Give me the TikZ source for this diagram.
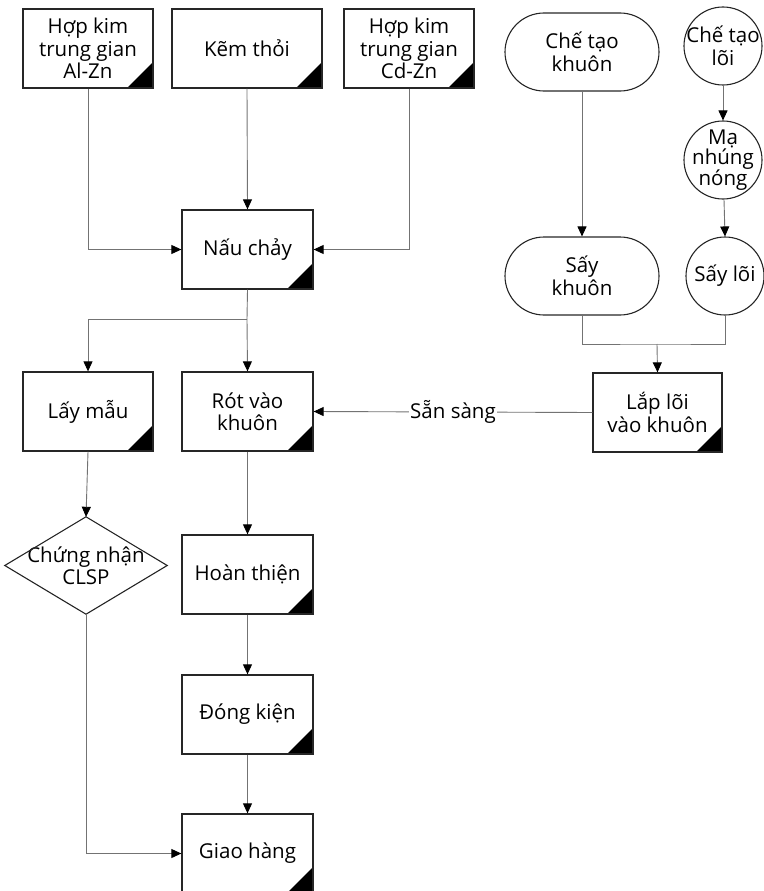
\documentclass[tikz,border=0pt]{standalone}
\usepackage{fontspec}
\setmainfont{Open Sans}
\usetikzlibrary{arrows.meta}
\begin{document}
\begin{tikzpicture}[x=1pt,y=-1pt,
  every node/.style={font=\fontsize{20.5}{22.5}\selectfont, align=center, text=black},
  box/.style={draw=black!85, line width=1.3pt, minimum width=130pt, minimum height=79pt, inner sep=0pt,
    path picture={\fill[black] ([xshift=-26pt]path picture bounding box.south east) -- (path picture bounding box.south east) -- ([yshift=26pt]path picture bounding box.south east) -- cycle;}},
  stadium/.style={draw=black!85, line width=1.1pt, rounded corners=39pt, minimum width=154pt, minimum height=78pt, inner sep=0pt},
  circ/.style={draw=black!85, line width=1.1pt, circle, minimum size=78pt, inner sep=0pt},
  conn/.style={draw=black!55, line width=0.9pt},
  arr/.style={conn, -{Triangle[length=10pt,width=9pt,color=black]}}
]
\useasboundingbox (0,0) rectangle (763,891);

% left column
\node[box] (alzn) at (88,48.5) {Hợp kim\\trung gian\\Al-Zn};
\node[box, minimum width=150pt] (zinc) at (247,48.5) {Kẽm thỏi};
\node[box] (cdzn) at (409,48.5) {Hợp kim\\trung gian\\Cd-Zn};
\node[box, minimum width=131pt] (melt) at (247.5,249.5) {Nấu chảy};
\node[box] (sample) at (88,411.5) {Lấy mẫu};
\node[box, minimum width=131pt] (pour) at (247.5,411.5) {Rót vào\\khuôn};
\node[minimum width=162pt, minimum height=97pt, inner sep=0pt] (cert) at (86,565.5) {Chứng nhận\\CLSP};
\draw[draw=black!85, line width=1.1pt] (cert.north) -- (cert.east) -- (cert.south) -- (cert.west) -- cycle;
\node[box, minimum width=131pt] (finish) at (247.5,574.5) {Hoàn thiện};
\node[box, minimum width=131pt] (pack) at (247.5,714.5) {Đóng kiện};
\node[box, minimum width=131pt] (ship) at (247.5,853.5) {Giao hàng};

% right side
\node[stadium] (mould) at (582,52) {Chế tạo\\khuôn};
\node[stadium] (drymould) at (582,276) {Sấy\\khuôn};
\node[circ] (core) at (723,46) {};
\node at (core) {Chế tạo\\lõi};
\node[circ] (plate) at (723,160) {};
\node at (plate) {Mạ\\[-2pt]nhúng\\[-2pt]nóng};
\node[circ] (drycore) at (725,276) {};
\node at (drycore) {Sấy lõi};
\node[box, minimum width=129pt] (assemble) at (657.5,412.5) {Lắp lõi\\vào khuôn};

\coordinate (jm) at (247,319);
\coordinate (ja) at (657,344);

% connectors
\draw[arr] (alzn.south) |- (melt.west);
\draw[arr] (cdzn.south) |- (melt.east);
\draw[arr] (zinc.south) -- (melt.north);
\draw[conn] (melt.south) -- (jm);
\draw[arr] (jm) -| (sample.north);
\draw[arr] (jm) -- (pour.north);
\draw[arr] (sample.south) -- (cert.north);
\draw[arr] (cert.south) |- (ship.west);
\draw[arr] (pour.south) -- (finish.north);
\draw[arr] (finish.south) -- (pack.north);
\draw[arr] (pack.south) -- (ship.north);

\draw[arr] (mould.south) -- (drymould.north);
\draw[arr] (core.south) -- (plate.north);
\draw[arr] ([xshift=1pt]plate.south) -- (drycore.north);
\draw[conn] (drymould.south) |- (ja) -| (drycore.south);
\draw[arr] (ja) -- (assemble.north);
\draw[arr] (assemble.west) -- node[fill=white, inner sep=1pt] {Sẵn sàng} (pour.east);
\end{tikzpicture}
\end{document}
